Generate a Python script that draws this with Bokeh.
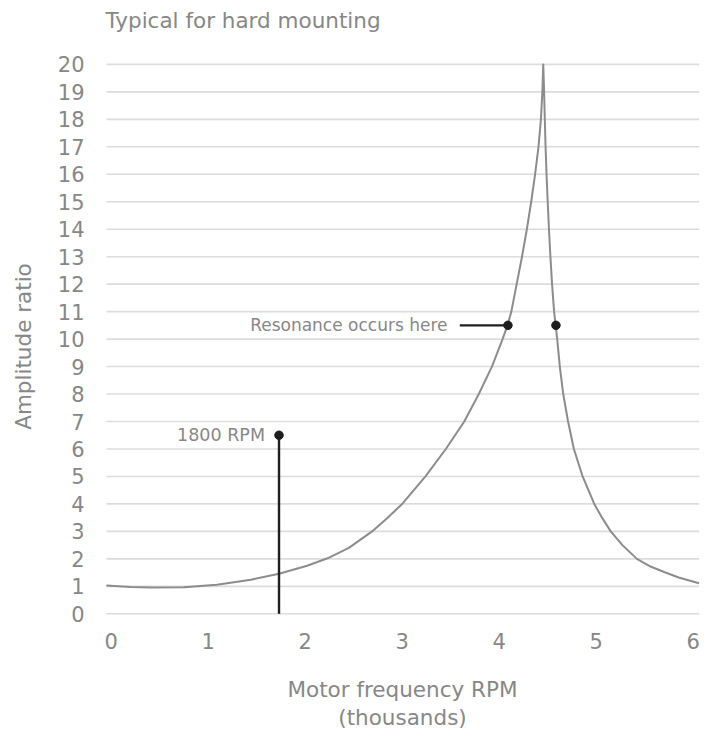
import math
from bokeh.plotting import figure
from bokeh.models import Range1d, FixedTicker, Label
from bokeh.embed import file_html
from bokeh.resources import INLINE

# Curve readings: motor frequency (thousands RPM) vs amplitude ratio
freq = [-0.05, 0.2, 0.41, 0.75, 1.09, 1.44, 1.73, 2.02, 2.23, 2.45, 2.69,
        2.85, 3.00, 3.24, 3.45, 3.64, 3.79, 3.925, 4.035, 4.085, 4.125, 4.18,
        4.235, 4.285, 4.33, 4.37, 4.405, 4.43, 4.445, 4.454,
        4.463, 4.470, 4.478, 4.488, 4.500, 4.513, 4.528, 4.545, 4.566, 4.582,
        4.598, 4.625, 4.66, 4.71, 4.77, 4.86, 4.98, 5.06, 5.15, 5.27, 5.42,
        5.56, 5.70, 5.85, 6.06]
ratio = [1.03, 0.98, 0.96, 0.97, 1.06, 1.24, 1.46, 1.75, 2.02, 2.4, 3.0,
         3.5, 4.0, 5.0, 6.0, 7.0, 8.0, 9.0, 10.0, 10.5, 11.0, 12.0,
         13.0, 14.0, 15.0, 16.0, 17.0, 18.0, 19.0, 20.0,
         19.0, 18.0, 17.0, 16.0, 15.0, 14.0, 13.0, 12.0, 11.0, 10.5,
         10.0, 9.0, 8.0, 7.0, 6.0, 5.0, 4.0, 3.5, 3.0, 2.5, 2.0,
         1.72, 1.52, 1.32, 1.11]

x_ticks = [0, 1, 2, 3, 4, 5, 6]
y_ticks = list(range(0, 21))
x_extent = (-0.048, 6.062)

title_text = "Typical for hard mounting"
x_title_lines = ["Motor frequency RPM", "(thousands)"]
y_title = "Amplitude ratio"

rpm_marker_x = 1.73
rpm_marker_y = 6.5
resonance_y = 10.5
resonance_x = [4.09, 4.585]
resonance_label_x = 3.467
resonance_line_start = 3.594

FONT = "DejaVu Sans"
GREY_TEXT = "#878787"
DARK = "#1e1e1e"

# the frame covers the whole canvas; axes are pinned inside it
p = figure(width=712, height=731, output_backend="svg", toolbar_location=None,
           x_range=Range1d(-1.14124, 6.19897), y_range=Range1d(-4.2847, 22.3262),
           min_border=0)
p.outline_line_color = None
p.background_fill_color = "white"
p.border_fill_color = "white"
p.xgrid.visible = False
p.ygrid.visible = False

for ax in (p.xaxis[0], p.yaxis[0]):
    ax.axis_line_color = None
    ax.major_tick_line_color = None
    ax.minor_tick_line_color = None
    ax.major_tick_out = 0
    ax.major_tick_in = 0
    ax.major_label_text_font = FONT
    ax.major_label_text_font_size = "21px"
    ax.major_label_text_color = GREY_TEXT

p.xaxis.ticker = FixedTicker(ticks=x_ticks)
p.yaxis.ticker = FixedTicker(ticks=y_ticks)
p.xaxis.fixed_location = 0
p.yaxis.fixed_location = x_extent[0]
p.xaxis.major_label_standoff = 19
p.yaxis.major_label_standoff = 22

# horizontal grid lines at the y ticks, spanning the plotting area
p.segment(x0=[x_extent[0]] * len(y_ticks), y0=y_ticks,
          x1=[x_extent[1]] * len(y_ticks), y1=y_ticks,
          line_color="#dcdcdc", line_width=1.6)

p.line(freq, ratio, line_color="#8c8c8c", line_width=2, line_join="round")

# 1800 RPM marker
p.segment(x0=[rpm_marker_x], y0=[0], x1=[rpm_marker_x], y1=[rpm_marker_y],
          line_color=DARK, line_width=2.4)
p.scatter([rpm_marker_x], [rpm_marker_y], size=8.5, color=DARK)
p.add_layout(Label(x=rpm_marker_x, y=rpm_marker_y, x_offset=-14, text="1800 RPM",
                   text_font=FONT, text_font_size="17.5px", text_color=GREY_TEXT,
                   text_align="right", text_baseline="middle"))

# Resonance markers
p.segment(x0=[resonance_line_start], y0=[resonance_y], x1=[resonance_x[0]],
          y1=[resonance_y], line_color=DARK, line_width=2.4)
p.scatter(resonance_x, [resonance_y] * len(resonance_x), size=8.5, color=DARK)
p.add_layout(Label(x=resonance_label_x, y=resonance_y, text="Resonance occurs here",
                   text_font=FONT, text_font_size="17px", text_color=GREY_TEXT,
                   text_align="right", text_baseline="middle"))

# Titles
p.add_layout(Label(x=-0.059, y=21.598, text=title_text, text_font=FONT,
                   text_font_size="21.5px", text_color=GREY_TEXT,
                   text_align="left", text_baseline="middle"))
p.add_layout(Label(x=3.003, y=-2.756, text=x_title_lines[0], text_font=FONT,
                   text_font_size="21.5px", text_color=GREY_TEXT,
                   text_align="center", text_baseline="middle"))
p.add_layout(Label(x=3.003, y=-3.776, text=x_title_lines[1], text_font=FONT,
                   text_font_size="21.5px", text_color=GREY_TEXT,
                   text_align="center", text_baseline="middle"))
p.add_layout(Label(x=-0.904, y=9.73, text=y_title, angle=math.pi / 2,
                   text_font=FONT, text_font_size="21.5px", text_color=GREY_TEXT,
                   text_align="center", text_baseline="middle"))

open("out.html", "w").write(file_html(p, INLINE))
